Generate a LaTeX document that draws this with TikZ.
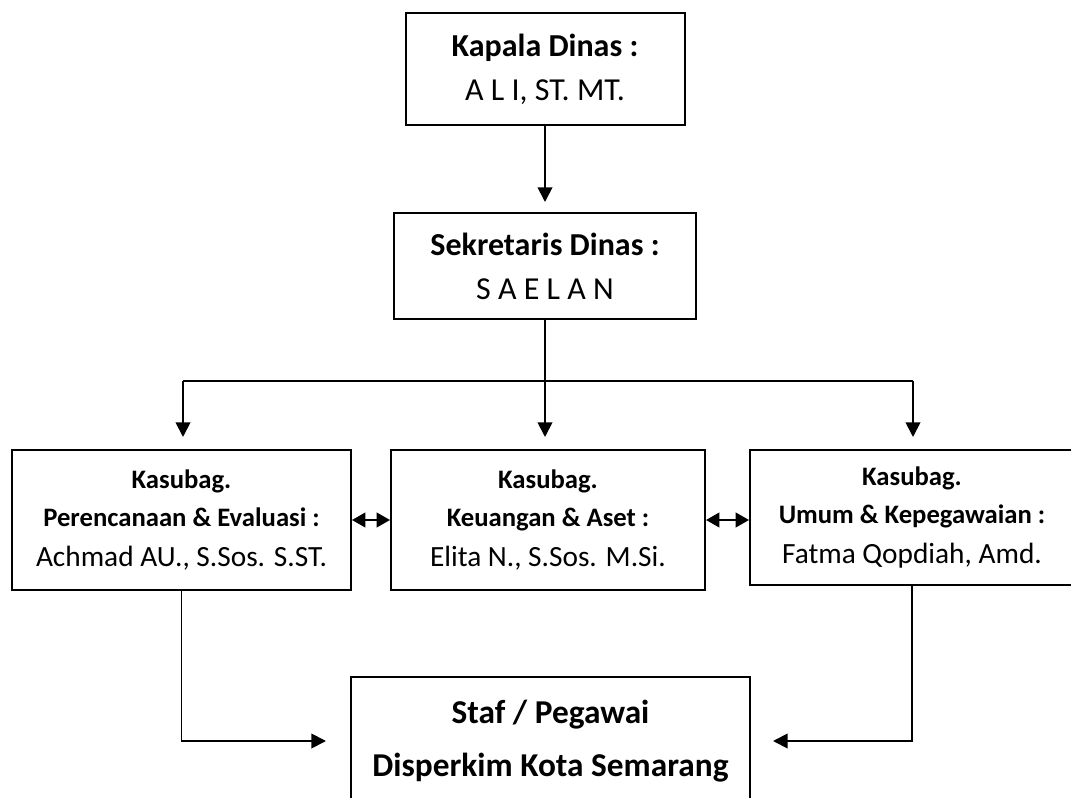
\documentclass[tikz,border=0pt]{standalone}
\usepackage{fontspec}
\setmainfont{Carlito}
\usetikzlibrary{arrows.meta}
\tikzset{
  box/.style={draw=black, line width=1.5pt, fill=white, align=center, inner sep=0pt},
  conn/.style={line width=1.4pt},
  arr/.style={conn, -{Triangle[length=11pt,width=11pt]}},
  darr/.style={conn, {Triangle[length=10pt,width=11pt]}-{Triangle[length=10pt,width=11pt]}},
  topfont/.style={font=\fontsize{24}{33}\selectfont},
  subfont/.style={font=\fontsize{20}{28}\selectfont},
  staffont/.style={font=\fontsize{25}{40}\selectfont\bfseries},
}
\begin{document}
\begin{tikzpicture}[x=0.75pt,y=-0.75pt]
\useasboundingbox (0,0) rectangle (1071,798);
\fill[white] (0,0) rectangle (1071,798);
\clip (0,0) rectangle (1071,798);

\node[box, topfont, minimum width=209.25pt, minimum height=84pt] (kapala) at (545,69)
  {\textbf{Kapala Dinas :}\\A L I, ST. MT.};
\node[box, topfont, minimum width=226.5pt, minimum height=79.5pt] (sekre) at (545,266)
  {\textbf{Sekretaris Dinas :}\\S A E L A N};

\node[box, subfont, minimum width=254.25pt, minimum height=105pt] (left) at (181.5,520)
  {\textbf{Kasubag.}\\\textbf{Perencanaan \& Evaluasi :}\\[2pt]{\fontsize{22}{28}\selectfont Achmad AU., S.Sos. S.ST.}};
\node[box, subfont, minimum width=235.5pt, minimum height=105pt] (mid) at (548,520)
  {\textbf{Kasubag.}\\\textbf{Keuangan \& Aset :}\\[2pt]{\fontsize{22}{28}\selectfont Elita N., S.Sos. M.Si.}};
\node[box, subfont, minimum width=243pt, minimum height=101.25pt] (right) at (912,517.5)
  {\textbf{Kasubag.}\\\textbf{Umum \& Kepegawaian :}\\[2pt]{\fontsize{22}{28}\selectfont Fatma Qopdiah, Amd.}};

\node[box, staffont, minimum width=299.25pt, minimum height=96pt] (staf) at (550.5,741)
  {Staf / Pegawai\\Disperkim Kota Semarang};

\coordinate (busL) at (183,381);
\coordinate (busR) at (913,381);

\draw[arr, shorten >=7.5pt] (kapala.south) -- (kapala.south |- sekre.north);
\draw[conn] (sekre.south) -- (sekre.south |- busL);
\draw[conn] (busL) -- (busR);
\draw[arr, shorten >=9pt] (busL) -- (busL |- left.north);
\draw[arr, shorten >=9pt] (sekre.south |- busL) -- (sekre.south |- mid.north);
\draw[arr, shorten >=9pt] (busR) -- (busR |- right.north);

\draw[darr] (left.east) -- (mid.west);
\draw[darr] (mid.east) -- (mid.east -| right.west);

\draw[arr, shorten >=18pt] (left.south) |- (staf.west);
\draw[arr, shorten >=16.5pt] (right.south) |- (staf.east);
\end{tikzpicture}
\end{document}
